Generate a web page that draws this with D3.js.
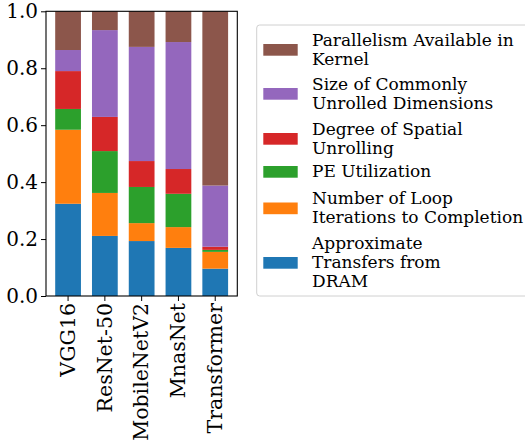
<!DOCTYPE html>
<html>
<head>
<meta charset="utf-8">
<script src="https://cdn.jsdelivr.net/npm/d3@7"></script>
<style>
  body { margin: 0; background: #fff; }
</style>
</head>
<body>
<script>
// categories along x
var models = ["VGG16", "ResNet-50", "MobileNetV2", "MnasNet", "Transformer"];

// series, bottom to top
var seriesNames = [
  "Approximate Transfers from DRAM",
  "Number of Loop Iterations to Completion",
  "PE Utilization",
  "Degree of Spatial Unrolling",
  "Size of Commonly Unrolled Dimensions",
  "Parallelism Available in Kernel"
];
var dramTransfers  = [0.324, 0.211, 0.193, 0.169, 0.096];
var loopIterations = [0.260, 0.151, 0.063, 0.073, 0.059];
var peUtilization  = [0.073, 0.147, 0.127, 0.117, 0.007];
var spatialUnroll  = [0.133, 0.120, 0.091, 0.087, 0.011];
var unrolledDims   = [0.074, 0.305, 0.401, 0.446, 0.215];
var kernelParallel = [0.136, 0.066, 0.125, 0.108, 0.612];

// legend lines (wrapped as in the figure)
var legendLines = [
  ["Approximate", "Transfers from", "DRAM"],
  ["Number of Loop", "Iterations to Completion"],
  ["PE Utilization"],
  ["Degree of Spatial", "Unrolling"],
  ["Size of Commonly", "Unrolled Dimensions"],
  ["Parallelism Available in", "Kernel"]
];
var yTicks = [0, 0.2, 0.4, 0.6, 0.8, 1.0];

var colors = ["#1f77b4", "#ff7f0e", "#2ca02c", "#d62728", "#9467bd", "#8c564b"];
var allSeries = [dramTransfers, loopIterations, peUtilization, spatialUnroll, unrolledDims, kernelParallel];
var serif = "'DejaVu Serif'";

var table = models.map(function(m, i) {
  var row = {model: m};
  seriesNames.forEach(function(s, j) { row[s] = allSeries[j][i]; });
  return row;
});

var W = 525, H = 445;
var plot = {left: 46, right: 237.3, top: 11.3, bottom: 296};

var svg = d3.select("body").append("svg")
  .attr("width", W)
  .attr("height", H);

var x = d3.scaleBand()
  .domain(models)
  .range([plot.left, plot.right])
  .paddingInner(0.3)
  .paddingOuter(0.25);

var y = d3.scaleLinear()
  .domain([0, 1])
  .range([plot.bottom, plot.top]);

var stack = d3.stack().keys(seriesNames)(table);

svg.append("g").selectAll("g")
  .data(stack)
  .enter().append("g")
  .attr("fill", function(d, i) { return colors[i]; })
  .selectAll("rect")
  .data(function(d) { return d; })
  .enter().append("rect")
  .attr("x", function(d) { return x(d.data.model); })
  .attr("width", x.bandwidth())
  .attr("y", function(d) { return y(d[1]); })
  .attr("height", function(d) { return y(d[0]) - y(d[1]); });

// axes
var yAxis = d3.axisLeft(y).tickValues(yTicks).tickFormat(d3.format(".1f")).tickSizeOuter(0).tickSize(5).tickPadding(3);
var gy = svg.append("g").attr("transform", "translate(" + plot.left + ",0)").call(yAxis);
gy.selectAll("text").style("font-size", "20px").style("font-family", serif).attr("fill", "#000");
gy.select(".domain").remove();

var xAxis = d3.axisBottom(x).tickSizeOuter(0).tickSize(5).tickPadding(4);
var gx = svg.append("g").attr("transform", "translate(0," + plot.bottom + ")").call(xAxis);
gx.select(".domain").remove();
gx.selectAll("text")
  .style("font-size", "20.5px")
  .style("font-family", serif)
  .attr("fill", "#000")
  .attr("transform", "rotate(-90)")
  .attr("x", -7)
  .attr("y", 0)
  .attr("dy", "0.33em")
  .attr("text-anchor", "end");

svg.append("rect")
  .attr("x", plot.left).attr("y", plot.top)
  .attr("width", plot.right - plot.left)
  .attr("height", plot.bottom - plot.top)
  .attr("fill", "none")
  .attr("stroke", "#000")
  .attr("stroke-width", 1.1);

// legend (top entry is the last series)
var legend = svg.append("g");
legend.append("rect")
  .attr("x", 256.7).attr("y", 25)
  .attr("width", 300).attr("height", 271)
  .attr("rx", 3)
  .attr("fill", "#fff")
  .attr("stroke", "#d0d0d0");

var legendCenters = [263, 208.5, 172, 139, 94, 50];
var lineH = 19;
seriesNames.forEach(function(s, j) {
  var cy = legendCenters[j];
  legend.append("rect")
    .attr("x", 263.3).attr("y", cy - 6)
    .attr("width", 34.4).attr("height", 11.7)
    .attr("fill", colors[j]);
  var lines = legendLines[j];
  var t = legend.append("text")
    .style("font-size", "17px")
    .style("font-family", serif)
    .attr("fill", "#000");
  lines.forEach(function(l, k) {
    t.append("tspan")
      .attr("x", 312)
      .attr("y", cy + (k - (lines.length - 1) / 2) * lineH + 5)
      .text(l);
  });
});
</script>
</body>
</html>
